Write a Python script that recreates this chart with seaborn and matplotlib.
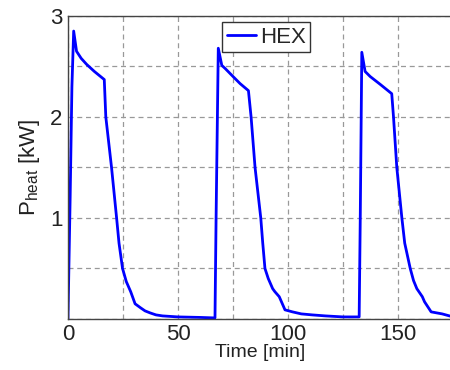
import numpy as np
import pandas as pd
import seaborn as sns
import matplotlib.pyplot as plt
from matplotlib.ticker import MultipleLocator

# time [min] and heating power [kW]
time_min = [0, 1.0, 1.8, 2.6, 3.9, 6, 8.5, 12, 16.5, 17.2, 19.8, 22.1, 23.2, 24.8,
            26.5, 28.5, 30.5, 33, 35, 37.3, 40, 43, 50, 60, 66.8,
            67.3, 68.3, 69.9, 71.4, 75, 78.2, 82, 83.2, 85, 87.6, 88.5, 89.5, 91,
            93, 94, 96, 97, 98.6, 102, 106, 111, 117, 125, 132.3,
            132.8, 133.5, 135, 137.3, 142, 147.1, 147.9, 149.4, 151.7, 153, 155.5,
            157, 158.5, 161, 162, 165, 170, 175]
p_heat = [0, 1.2, 2.3, 2.85, 2.65, 2.58, 2.52, 2.45, 2.37, 2.0, 1.5, 1.0, 0.75, 0.5,
          0.37, 0.27, 0.15, 0.11, 0.08, 0.06, 0.04, 0.03, 0.02, 0.015, 0.01,
          1.0, 2.68, 2.51, 2.48, 2.40, 2.33, 2.26, 2.0, 1.5, 1.0, 0.75, 0.5, 0.4,
          0.3, 0.27, 0.22, 0.17, 0.09, 0.07, 0.05, 0.04, 0.03, 0.02, 0.02,
          1.0, 2.64, 2.45, 2.40, 2.32, 2.23, 2.0, 1.5, 1.0, 0.75, 0.5,
          0.38, 0.3, 0.22, 0.17, 0.07, 0.05, 0.02]
series_name = "HEX"

df = pd.DataFrame({"t": time_min, "P": p_heat, "name": series_name})

sns.set_style("white")
plt.rcParams['font.family'] = ['Liberation Sans', 'DejaVu Sans']
plt.rcParams['mathtext.fontset'] = 'custom'
plt.rcParams['mathtext.rm'] = 'Liberation Sans'

fig = plt.figure(figsize=(4.5, 3.7), dpi=100)
ax = fig.add_axes([0.151, 0.138, 0.856, 0.819])

sns.lineplot(data=df, x="t", y="P", hue="name", palette=["#0000ff"],
             linewidth=2.0, ax=ax, sort=False)

ax.set_xlim(0, 175)
ax.set_ylim(0, 3)
ax.xaxis.set_major_locator(MultipleLocator(50))
ax.xaxis.set_minor_locator(MultipleLocator(25))
ax.yaxis.set_major_locator(MultipleLocator(1))
ax.yaxis.set_minor_locator(MultipleLocator(0.5))
ax.set_yticks([1, 2, 3])
ax.grid(True, which="both", color="#999999", linestyle=(0, (4, 3)), linewidth=0.9)
ax.tick_params(labelsize=16, length=0, pad=4, labelcolor="#222222")
ax.tick_params(which="minor", length=0)

for s in ax.spines.values():
    s.set_color("#444444")
    s.set_linewidth(1.0)

ax.set_xlabel("Time [min]", fontsize=14, labelpad=-1, color="#222222")
ax.set_ylabel(r"P$_\mathregular{heat}$ [kW]", fontsize=16, labelpad=6, color="#222222")

leg = ax.legend(loc="upper center", bbox_to_anchor=(0.515, 1.015), fontsize=16,
                handlelength=1.3, handletextpad=0.2, borderpad=0.2,
                fancybox=False, framealpha=1, edgecolor="#333333")
leg.get_frame().set_linewidth(1.0)

fig.savefig("out.png", dpi=100)
